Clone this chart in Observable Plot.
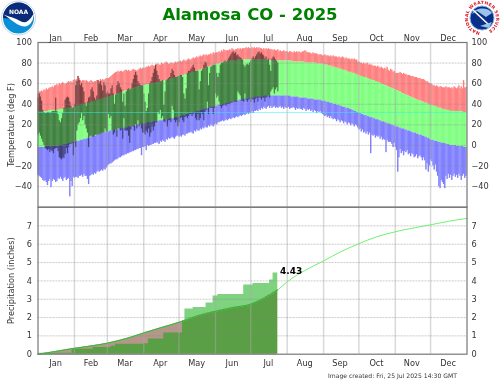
<!DOCTYPE html>
<html><head><meta charset="utf-8">
<script src="https://cdn.jsdelivr.net/npm/d3@7"></script>
<script src="https://cdn.jsdelivr.net/npm/@observablehq/plot@0.6"></script>
<style>
html,body{margin:0;padding:0;background:#fff}
#page{position:relative;width:500px;height:382px;overflow:hidden;font-family:"DejaVu Sans",sans-serif;filter:blur(.3px)}
#title{position:absolute;left:0;width:500px;top:3px;text-align:center;font-weight:bold;font-size:16.5px;color:#008000;line-height:24px}
#caption{position:absolute;left:328px;top:372px;font-size:6.1px;color:#333;white-space:nowrap}
.logo{position:absolute;top:0}
</style></head><body>
<div id="page">
<div id="title">Alamosa CO - 2025</div>
<svg class="logo" style="left:0" width="40" height="38" viewBox="0 0 40 38">
<circle cx="18.5" cy="18" r="17" fill="#fff" stroke="#c8d4e4" stroke-width="1"/>
<circle cx="18.5" cy="18" r="15.5" fill="#0a8fd6"/>
<path d="M3 18A15.5 15.5 0 0 1 34 18C29 23 25 24 20 21C16 19 9 19 3 18Z" fill="#0b2a78"/>
<path d="M3.5 14.5C10 17 15 18 20 21C25 24 29 22 34 13C34 20 30 27 24 26.5C18 26 13 21 3.5 14.5Z" fill="#fff"/>
<text x="18.5" y="13.5" text-anchor="middle" font-size="6" font-weight="bold" fill="#fff" font-family="DejaVu Sans">NOAA</text>
</svg>
<svg class="logo" style="left:462px" width="38" height="38" viewBox="0 0 38 38">
<defs><path id="ring" d="M20 32A14 14 0 1 1 20.01 32"/></defs>
<circle cx="20" cy="18" r="12" fill="#0a2f8a" stroke="#7fb0e0" stroke-width="1"/>
<path d="M10 14C14 7 26 7 30 13L24 17L15 11Z" fill="#9cc4ea"/>
<path d="M11 10L27 25" stroke="#fff" stroke-width="1.6"/>
<path d="M18 26L27 28L30 22Z" fill="#9cc4ea"/>
<text font-size="4.4" font-weight="bold" fill="#e01020" font-family="DejaVu Sans" letter-spacing=".25"><textPath href="#ring" startOffset="2">NATIONAL WEATHER SERVICE</textPath></text>
</svg>
<div id="caption">Image created: Fri, 25 Jul 2025 14:30 GMT</div>
</div>
<script>
const recordHigh=[
50,52,52,53,52,54,53,55,54,55,56,56,57,56,58,58,59,58,60,59,60,61,60,59,60,61,62,61,62,61,63,
64,63,64,67,65,63,62,63,63,62,63,62,61,62,63,62,61,62,62,63,63,62,64,63,64,63,64,65,
65,65,66,67,68,69,70,71,71,72,71,72,72,71,72,73,73,72,73,72,72,73,74,73,73,72,73,74,75,74,75,
75,75,76,76,77,76,77,78,77,77,78,79,79,78,78,80,79,79,80,81,80,79,79,80,80,79,80,81,80,81,
81,82,81,82,83,82,82,83,84,83,83,84,85,84,85,86,85,86,87,86,87,88,87,88,87,88,88,89,88,90,89,
90,90,90,91,90,92,91,93,92,92,92,92,93,92,94,93,92,93,93,94,93,94,93,94,94,94,95,94,95,94,
94,95,94,95,94,95,94,95,94,94,93,94,93,94,93,94,93,93,93,92,93,92,92,93,91,92,91,91,92,91,91,
91,90,91,91,90,90,91,90,91,90,91,90,90,91,91,92,91,90,90,90,89,89,90,89,89,89,88,88,88,88,87,
87,88,87,87,87,86,87,86,87,86,86,86,85,86,85,85,86,85,84,85,84,84,84,83,84,83,84,83,83,81,
81,80,80,79,80,79,79,80,78,79,78,78,77,77,77,76,77,76,75,76,75,74,75,74,76,73,72,74,73,71,72,
70,70,70,70,71,70,69,70,69,69,68,68,68,67,67,67,66,66,66,65,65,65,64,64,64,63,62,62,61,60,
60,59,58,58,57,58,57,56,57,57,56,56,56,57,56,56,56,55,56,55,57,56,55,56,58,55,57,55,63,56,56];
const normalHigh=[
33,33,33,33,33,33,33,33,33,34,34,34,34,34,34,34,34,34,35,35,35,35,35,35,36,36,36,36,36,37,37,
37,37,38,38,38,39,39,39,40,40,40,41,41,41,42,42,42,43,43,43,44,44,44,45,45,45,46,46,
46,47,47,48,48,48,49,49,50,50,50,51,51,52,52,53,53,53,54,54,55,55,55,56,56,56,57,57,57,58,58,
58,58,59,59,59,59,60,60,60,60,61,61,61,61,62,62,62,63,63,63,64,64,64,65,65,65,66,66,66,67,
67,67,68,68,68,69,69,69,70,70,70,71,71,71,72,72,72,73,73,74,74,74,75,75,76,76,76,77,77,78,78,
78,79,79,79,80,80,80,81,81,81,81,82,82,82,82,82,82,82,82,83,83,83,83,83,83,83,83,83,83,83,
83,83,83,83,83,83,83,83,83,83,83,83,83,83,83,83,82,82,82,82,82,82,82,82,82,82,82,82,82,82,82,
82,82,82,82,81,81,81,81,81,81,81,81,81,81,81,80,80,80,80,80,80,80,80,80,80,79,79,79,79,79,79,
78,78,78,78,77,77,77,76,76,76,75,75,75,74,74,74,73,73,73,72,72,71,71,71,70,70,70,69,69,68,
68,67,67,67,66,66,66,65,65,64,64,63,63,63,62,62,61,61,60,60,59,59,58,58,57,57,56,56,55,55,54,
54,53,53,52,52,51,50,50,49,49,48,48,47,47,46,46,45,45,44,44,43,43,43,42,42,41,41,40,40,39,
39,39,38,38,38,37,37,36,36,36,35,35,35,34,34,34,34,33,33,33,33,33,33,33,33,33,33,33,32,32,32];
const normalLow=[
-2,-2,-2,-2,-2,-2,-2,-1,-1,-1,-1,-1,-1,-1,-1,-1,-1,-1,0,0,0,0,1,1,1,1,2,2,2,3,3,
3,3,4,4,4,5,5,5,6,6,6,7,7,7,8,8,9,9,9,10,10,10,11,11,12,12,12,13,
13,13,14,14,14,14,15,15,15,15,16,16,16,16,17,17,17,17,18,18,18,18,19,19,19,20,20,20,20,21,21,
21,21,21,22,22,22,22,22,23,23,23,23,23,24,24,24,24,25,25,25,25,25,26,26,26,26,27,27,27,27,
28,28,28,29,29,29,30,30,30,31,31,31,32,32,32,33,33,33,34,34,34,35,35,35,36,36,36,37,37,37,38,
38,38,39,39,39,39,40,40,40,41,41,41,41,42,42,42,43,43,43,43,44,44,44,44,45,45,45,45,45,46,
46,46,46,46,47,47,47,47,47,47,47,48,48,48,48,48,48,48,48,48,48,48,48,48,48,48,48,48,48,48,48,
48,48,48,47,47,47,47,47,47,47,46,46,46,46,46,46,46,45,45,45,45,45,45,44,44,44,44,44,44,43,43,
43,43,42,42,42,41,41,41,40,40,40,39,39,39,38,38,37,37,37,36,36,36,35,35,34,34,33,33,32,32,
31,31,30,30,29,29,29,28,28,27,27,27,26,26,25,25,25,24,24,23,23,23,22,22,21,21,21,20,20,19,19,
18,18,18,17,17,16,16,16,15,15,14,14,14,13,13,12,12,12,11,11,10,10,10,9,9,8,8,7,7,6,
5,5,5,4,4,4,3,3,3,2,2,2,2,1,1,1,0,0,0,0,0,0,-1,-1,-1,-1,-1,-1,-2,-2,-2];
const recordLow=[
-29,-30,-31,-32,-34,-35,-34,-36,-39,-35,-33,-41,-35,-33,-34,-36,-35,-32,-33,-31,-33,-35,-32,-31,-34,-33,-32,-50,-35,-40,-31,
-32,-31,-31,-32,-30,-30,-29,-31,-28,-30,-30,-33,-38,-30,-29,-28,-29,-27,-28,-26,-25,-26,-25,-24,-25,-23,-24,-22,
-20,-19,-18,-18,-17,-16,-15,-14,-14,-13,-12,-12,-11,-10,-10,-9,-9,-8,-8,-7,-7,-6,-6,-5,-5,-4,-4,-3,-3,-10,-2,
-2,-1,-5,0,-1,0,0,1,1,2,2,3,2,1,4,3,5,4,3,6,5,7,6,7,8,7,6,8,9,9,
8,9,8,10,10,9,11,11,12,12,13,12,11,14,13,15,14,14,16,15,17,16,18,17,17,19,18,20,19,18,20,
21,20,22,22,23,23,24,23,24,25,24,25,26,25,26,27,26,27,28,27,28,29,28,29,30,29,30,31,30,31,
31,33,31,33,33,34,33,35,34,36,35,37,36,35,37,38,36,38,36,37,38,36,37,36,37,38,36,37,35,37,36,
36,37,35,36,36,37,36,34,36,35,36,35,35,34,36,35,33,35,34,35,33,34,32,34,33,31,33,32,33,31,30,
29,28,29,27,28,26,28,26,25,26,25,23,25,24,22,24,23,21,23,22,20,22,21,19,21,20,18,20,19,17,
15,16,13,15,12,13,11,13,10,12,-8,10,9,10,7,9,8,9,6,8,5,6,5,-7,5,3,3,3,1,-2,2,
-2,-5,-26,-12,-4,-8,-6,-10,-6,-7,-5,-9,-8,-11,-8,-9,-12,-11,-9,-13,-11,-10,-12,-15,-12,-15,-24,-18,-26,-20,
-14,-16,-20,-24,-19,-26,-30,-40,-42,-34,-36,-38,-42,-30,-33,-28,-32,-29,-34,-30,-28,-31,-29,-32,-28,-30,-34,-30,-28,-32,-30];
const observedHigh=[
46,50,47,43,34,32,31,31,32,32,31,32,33,33,33,46,33,30,24,22,26,31,36,44,46,47,46,42,38,36,37,
40,58,62,67,63,58,60,56,52,41,38,42,46,47,54,56,52,46,44,48,63,60,62,58,53,61,58,50,
52,50,50,55,58,50,40,49,58,62,60,56,54,42,50,38,52,54,55,54,55,60,64,68,71,68,62,60,58,58,58,
50,42,33,36,50,60,62,66,70,74,78,72,68,64,62,62,63,39,52,63,64,65,66,70,74,72,68,66,66,67,
67,68,68,66,50,45,55,70,72,72,74,76,78,75,72,72,72,54,62,72,74,78,81,80,76,58,70,76,77,78,78,
78,70,66,70,78,80,80,81,82,81,82,84,86,88,90,91,89,90,87,88,86,85,84,83,78,76,78,79,78,80,
82,84,86,84,86,88,90,91,89,90,88,87,84,86,83,84,78,72,84,86,85,83,82,80];
const observedLow=[
10,12,9,6,3,0,-3,-4,-5,-4,-7,-5,-6,-8,-4,-3,-3,-6,-12,-13,-14,-12,-13,-9,-3,-8,-2,1,1,2,-10,
2,-2,14,20,22,26,31,24,28,20,16,12,-2,8,9,8,8,9,10,10,10,10,11,11,12,12,16,13,
13,30,26,28,14,10,12,15,8,16,16,14,15,6,26,14,14,14,9,2,15,18,18,14,20,16,24,18,20,16,12,
12,10,14,12,16,8,12,18,14,18,22,22,32,30,34,26,28,23,22,25,18,24,24,22,38,34,24,22,24,18,
22,26,27,24,22,27,28,26,28,30,30,28,30,31,26,24,30,24,26,32,30,24,32,34,42,30,36,36,36,30,36,
50,46,48,42,38,36,38,39,39,38,40,40,40,41,41,42,42,42,42,52,50,48,43,43,42,50,44,42,44,45,
42,45,44,41,45,46,42,46,46,44,46,46,42,46,47,48,46,52,54,56,50,54,56,52];
const precipDays=[0,29,47,62,66,90,94,107,123,125,132,143,149,153,175,183,197,200,204];
const precipTotals=[0.05,0.27,0.37,0.44,0.54,0.57,0.83,1.16,1.82,2.46,2.55,2.8,3.18,3.26,3.77,3.86,4.05,4.43,4.43];
const normalPrecipDays=[0,15,31,45,59,75,90,105,120,136,151,166,181,192,204,212,228,243,258,273,288,304,319,334,349,365];
const normalPrecipTotals=[0,0.15,0.32,0.45,0.6,0.85,1.16,1.45,1.74,2.1,2.34,2.55,2.73,3.05,3.51,3.95,4.6,5.09,5.6,6.03,6.4,6.68,6.88,7.06,7.25,7.41];
const lastObservedDay=204;
const monthStarts=["2025-02-01","2025-03-01","2025-04-01","2025-05-01","2025-06-01","2025-07-01","2025-08-01","2025-09-01","2025-10-01","2025-11-01","2025-12-01"].map(s=>new Date(s));
const monthMids=["2025-01-16","2025-02-15","2025-03-16","2025-04-15","2025-05-16","2025-06-15","2025-07-16","2025-08-16","2025-09-15","2025-10-16","2025-11-15","2025-12-16"].map(s=>new Date(s));
const tempTicks=[-40,-20,0,20,40,60,80,100];
const precipTicks=[0,1,2,3,4,5,6,7];
const freezing=32;
const latestPrecipLabel=["4.43"];

const dayDate=i=>new Date(Date.UTC(2025,0,1+i));
const xDomain=[dayDate(0),dayDate(365)];
const bars=recordHigh.map((v,i)=>({a:dayDate(i),b:dayDate(i+1),rh:v,nh:normalHigh[i],nl:normalLow[i],rl:recordLow[i]}));
const obs=observedHigh.map((v,i)=>({a:dayDate(i),b:dayDate(i+1),h:v,l:observedLow[i]}));
const font={fontFamily:"DejaVu Sans",fontSize:"8.2px",color:"#333",background:"transparent",overflow:"visible"};
const grid=(ticksY)=>[
  Plot.gridX({ticks:monthStarts,stroke:"#aaa",strokeOpacity:.45,strokeWidth:1.5}),
  Plot.gridY({ticks:ticksY,stroke:"#888",strokeOpacity:.45,strokeWidth:1,strokeDasharray:"2,1"})
];
const solid={x1:"a",x2:"b",insetLeft:-.12,insetRight:-.12};
const tempPlot=Plot.plot({width:500,height:210,marginTop:42,marginBottom:3.3,marginLeft:37.5,marginRight:33.5,style:font,
  x:{type:"utc",domain:xDomain},y:{domain:[-60,100]},
  marks:[
    Plot.rect(bars,{...solid,y1:"nh",y2:"rh",fill:"#ff8080"}),
    Plot.rect(bars,{...solid,y1:"nl",y2:"nh",fill:"#80ff80"}),
    Plot.rect(bars,{...solid,y1:"rl",y2:"nl",fill:"#8080ff"}),
    Plot.rect(obs,{x1:"a",x2:"b",y1:"l",y2:"h",fill:"#000",fillOpacity:.5}),
    ...grid(tempTicks),
    Plot.ruleY([freezing],{stroke:"#30f0f0",strokeOpacity:.5,strokeWidth:1}),
    Plot.frame({stroke:"#777",strokeWidth:1.2}),
    Plot.axisX({anchor:"top",ticks:monthMids,tickFormat:d3.utcFormat("%b"),tickSize:0,tickPadding:2,label:null}),
    Plot.axisY({anchor:"left",ticks:tempTicks,tickSize:0,tickPadding:6,label:"Temperature (deg F)",labelAnchor:"center",labelOffset:30,labelArrow:"none"}),
    Plot.axisY({anchor:"right",ticks:tempTicks,tickSize:0,tickPadding:4.5,label:null})
  ]});
const normalRows=normalPrecipDays.map((d,i)=>({x:dayDate(d),y:normalPrecipTotals[i],d}));
const normalPast=normalRows.filter(r=>r.d<=lastObservedDay);
const precipRows=precipDays.map((d,i)=>({x:dayDate(d),y:precipTotals[i]}));
const precipPlot=Plot.plot({width:500,height:182,marginTop:6.7,marginBottom:28.3,marginLeft:37.5,marginRight:33.5,style:font,
  x:{type:"utc",domain:xDomain},y:{domain:[0,8.02]},
  marks:[
    Plot.areaY(normalPast,{x:"x",y:"y",fill:"#b4968a",curve:"monotone-x"}),
    Plot.areaY(precipRows,{x:"x",y:"y",fill:"#00a500",fillOpacity:.5,curve:"step-after"}),
    ...grid(precipTicks.slice(1)),
    Plot.line(normalRows,{x:"x",y:"y",stroke:"#70f070",strokeWidth:1,curve:"monotone-x"}),
    Plot.line(normalPast,{x:"x",y:"y",stroke:"#28a028",strokeWidth:.8,curve:"monotone-x"}),
    Plot.text(latestPrecipLabel,{x:()=>dayDate(205),y:()=>4.43,text:d=>d,textAnchor:"start",dx:1,dy:-2,fontWeight:"bold",fontSize:9,fill:"#000"}),
    Plot.frame({stroke:"#777",strokeWidth:1.2}),
    Plot.axisX({anchor:"bottom",ticks:monthMids,tickFormat:d3.utcFormat("%b"),tickSize:0,tickPadding:6,label:null}),
    Plot.axisY({anchor:"left",ticks:precipTicks,tickSize:0,tickPadding:6,label:"Precipitation (inches)",labelAnchor:"center",labelOffset:30,labelArrow:"none"}),
    Plot.axisY({anchor:"right",ticks:precipTicks,tickSize:0,tickPadding:4.5,label:null})
  ]});
const page=document.getElementById("page");
for(const [p,t] of [[tempPlot,0],[precipPlot,200]]){const w=document.createElement("div");w.style.cssText=`position:absolute;left:0;top:${t}px`;w.appendChild(p);page.appendChild(w);}
</script>
</body></html>
